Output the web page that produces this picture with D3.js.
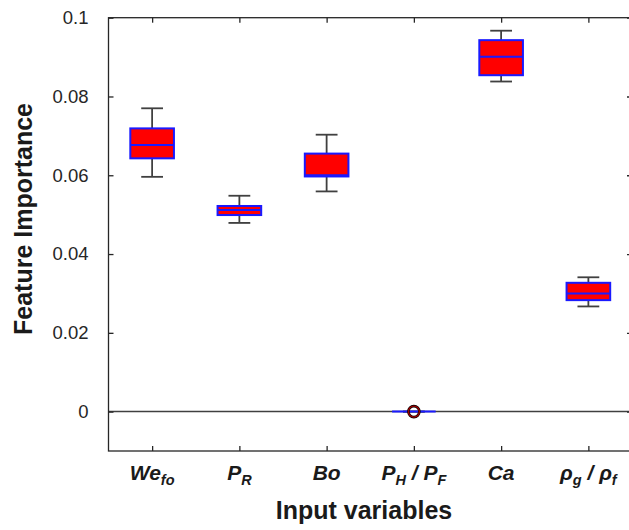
<!DOCTYPE html>
<html><head><meta charset="utf-8">
<script src="https://cdn.jsdelivr.net/npm/d3@7"></script>
<style>body{margin:0;background:#fff}svg{display:block}text{font-family:"Liberation Sans",Arial,sans-serif}</style>
</head><body><svg id="c" width="629" height="530"></svg>
<script>
const categories = ["We","PR","Bo","PHPF","Ca","rho"];
const whiskerLow  = [0.0596, 0.0479, 0.0559, 0, 0.0838, 0.0267];
const q1          = [0.0643, 0.0499, 0.0597, 0, 0.0854, 0.0283];
const median      = [0.0677, 0.0512, 0.0600, 0, 0.0901, 0.0300];
const q3          = [0.0719, 0.0522, 0.0655, 0, 0.0943, 0.0327];
const whiskerHigh = [0.0770, 0.0548, 0.0703, 0, 0.0967, 0.0341];
const outliers    = [[],[],[],[0],[],[]];
const yTicks = [0, 0.02, 0.04, 0.06, 0.08, 0.1];

const svg = d3.select("#c");
const L=108.5, R=632, T=17.7, B=451;
const x = d3.scalePoint().domain(categories).range([L, R]).padding(0.5);
const y = d3.scaleLinear().domain([-0.01, 0.1]).range([B, T]);
const step = x.step();
const bw = step*0.5, cw = step*0.25;
const axisCol = "#262626";

// zero line
svg.append("line").attr("x1",L).attr("x2",R).attr("y1",y(0)).attr("y2",y(0))
  .attr("stroke","#404040").attr("stroke-width",1.5);

// boxes
categories.forEach((c,i)=>{
  const cx = x(c);
  const g = svg.append("g");
  g.append("line").attr("x1",cx).attr("x2",cx).attr("y1",y(whiskerHigh[i])).attr("y2",y(q3[i])).attr("stroke","#404040").attr("stroke-width",1.8);
  g.append("line").attr("x1",cx).attr("x2",cx).attr("y1",y(q1[i])).attr("y2",y(whiskerLow[i])).attr("stroke","#404040").attr("stroke-width",1.8);
  [whiskerHigh[i], whiskerLow[i]].forEach(v=>{
    g.append("line").attr("x1",cx-cw/2).attr("x2",cx+cw/2).attr("y1",y(v)).attr("y2",y(v)).attr("stroke","#404040").attr("stroke-width",1.8);
  });
  g.append("rect").attr("x",cx-bw/2).attr("width",bw).attr("y",y(q3[i])).attr("height",Math.max(0,y(q1[i])-y(q3[i])))
    .attr("fill","#ff0000").attr("stroke","#1a1aff").attr("stroke-width",2);
  g.append("line").attr("x1",cx-bw/2).attr("x2",cx+bw/2).attr("y1",y(median[i])).attr("y2",y(median[i])).attr("stroke","#1a1aff").attr("stroke-width",2);
  outliers[i].forEach(v=>{
    g.append("circle").attr("cx",cx).attr("cy",y(v)).attr("r",5.5).attr("fill","none").attr("stroke","#000").attr("stroke-width",2.6);
    g.append("circle").attr("cx",cx).attr("cy",y(v)).attr("r",5.5).attr("fill","none").attr("stroke","#a00000").attr("stroke-width",1.4);
  });
});

// axes
svg.append("rect").attr("x",L).attr("y",T).attr("width",R-L).attr("height",B-T).attr("fill","none").attr("stroke",axisCol).attr("stroke-width",1.3);
const leftAx = svg.append("g").attr("transform",`translate(${L},0)`)
  .call(d3.axisLeft(y).tickValues(yTicks).tickSize(-5).tickPadding(20).tickFormat(d=>d===0?"0":String(+d.toFixed(2))));
leftAx.select(".domain").remove();
leftAx.selectAll("line").attr("stroke",axisCol).attr("stroke-width",1.3);
leftAx.selectAll("text").attr("font-size",18.5).attr("fill","#262626").attr("font-family","Liberation Sans, Arial, sans-serif");
const rightAx = svg.append("g").attr("transform",`translate(${R},0)`)
  .call(d3.axisRight(y).tickValues(yTicks).tickSize(-5).tickFormat(""));
rightAx.select(".domain").remove();
rightAx.selectAll("line").attr("stroke",axisCol).attr("stroke-width",1.3);
const bottomAx = svg.append("g").attr("transform",`translate(0,${B})`)
  .call(d3.axisBottom(x).tickSize(-5).tickFormat(""));
bottomAx.select(".domain").remove();
bottomAx.selectAll("line").attr("stroke",axisCol).attr("stroke-width",1.3);
const topAx = svg.append("g").attr("transform",`translate(0,${T})`)
  .call(d3.axisTop(x).tickSize(-5).tickFormat(""));
topAx.select(".domain").remove();
topAx.selectAll("line").attr("stroke",axisCol).attr("stroke-width",1.3);

// x labels with subscripts
const labelParts = {
  We:[["We",0],["fo",1]],
  PR:[["P",0],["R",1]],
  Bo:[["Bo",0]],
  PHPF:[["P",0],["H",1],[" / P",0],["F",1]],
  Ca:[["Ca",0]],
  rho:[["ρ",0],["g",1],[" / ρ",0],["f",1]]
};
categories.forEach(c=>{
  const t = svg.append("text").attr("x",x(c)).attr("y",480).attr("text-anchor","middle")
    .attr("font-size",21).attr("font-weight","bold").attr("font-style","italic").attr("fill","#1a1a1a");
  labelParts[c].forEach(([s,sub],k)=>{
    const ts = t.append("tspan").text(s);
    if(sub){ ts.attr("font-size",14.5).attr("dy",5); }
    else if(k>0){ ts.attr("dy",-5); }
  });
});

svg.append("text").attr("x",364).attr("y",519).attr("text-anchor","middle")
  .attr("font-size",25).attr("font-weight","bold").attr("fill","#1a1a1a").text("Input variables");
svg.append("text").attr("transform",`translate(32,219) rotate(-90)`).attr("text-anchor","middle")
  .attr("font-size",25).attr("font-weight","bold").attr("fill","#1a1a1a").text("Feature Importance");
</script></body></html>
